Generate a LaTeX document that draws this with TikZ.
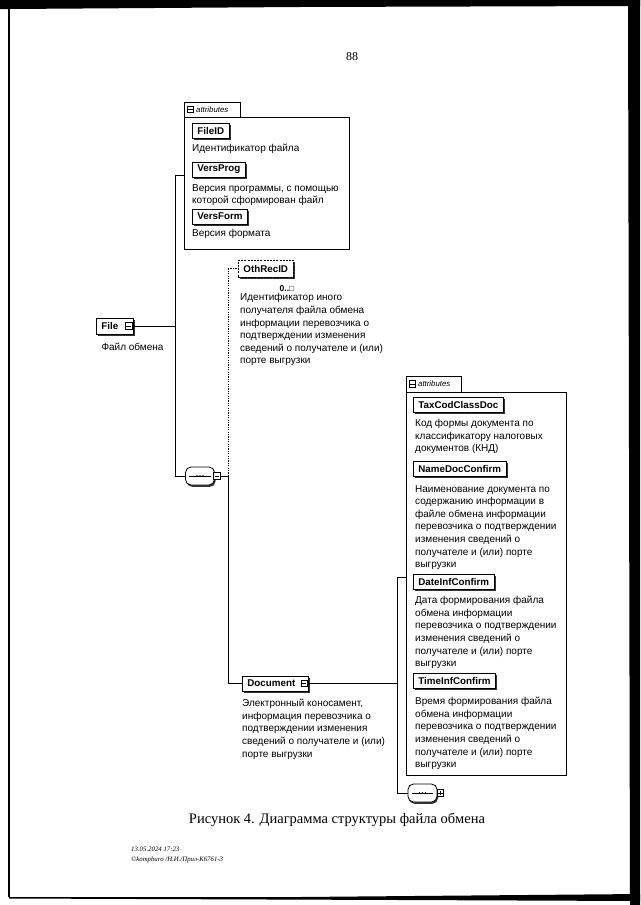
\documentclass[tikz,border=0pt]{standalone}
\usepackage{fontspec}
\setmainfont{Liberation Serif}
\setsansfont{Liberation Sans}
\usetikzlibrary{shadows}

\tikzset{
  elem/.style={draw, line width=0.8pt, fill=white, anchor=west,
    font=\sffamily\bfseries\fontsize{9.8}{11}\selectfont,
    inner xsep=5pt, inner ysep=0pt, minimum height=15pt,
    drop shadow={shadow xshift=1.6pt, shadow yshift=-1.8pt, fill=black!80, opacity=1}},
  optelem/.style={elem, dash pattern=on 2pt off 1.2pt, minimum height=17pt},
  desc/.style={anchor=north west, inner sep=0pt, align=left,
    font=\sffamily\fontsize{10}{12.6}\selectfont},
  attrbox/.style={draw, line width=0.7pt, anchor=north west, inner sep=0pt},
  attrlbl/.style={anchor=west, inner sep=0pt, font=\sffamily\itshape\fontsize{7.8}{8}\selectfont},
  btn/.style={draw, line width=0.6pt, fill=white, minimum size=6.5pt, inner sep=0pt},
  seqshape/.style={draw, line width=0.8pt, fill=white, rounded corners=5.5pt,
    minimum width=29pt, minimum height=18pt, inner sep=0pt,
    drop shadow={shadow xshift=1pt, shadow yshift=-1.8pt, fill=black!80, opacity=1}},
  conn/.style={line width=0.7pt},
  dotconn/.style={line width=0.8pt, dash pattern=on 1.3pt off 1.1pt},
}

\begin{document}
\begin{tikzpicture}[x=1pt, y=-1pt]
\useasboundingbox (0,0) rectangle (640,905);

% scanned page borders
\fill[black] (0,0) -- (640,0) -- (640,6) -- (300,7) -- (10,9) -- (0,9) -- cycle;
\fill[black] (628,0) -- (640,0) -- (640,905) -- (630,905) -- cycle;
\fill[black] (9,897) -- (300,897) -- (640,894) -- (640,901) -- (400,900) -- (9,898.5) -- cycle;
\draw[line width=1.3pt] (9,8) -- (9,897);

% page number
\node[font=\fontsize{12}{14}\selectfont, inner sep=0pt] (pagenum) at (352,57) {88};

% ---------- top attributes box ----------
\node[attrbox, minimum width=165pt, minimum height=132pt] (attr1) at (184,117) {};
\draw[line width=0.7pt] (attr1.north west) -- ++(0,-15) -- ++(56,0) -- ++(0,15);
\node[btn] (attr1btn) at (190.5,109.5) {};
\draw[line width=0.5pt] ([xshift=1.3pt]attr1btn.west) -- ([xshift=-1.3pt]attr1btn.east);
\node[attrlbl] (attr1lbl) at (196,109.5) {attributes};

\node[elem] (fileid) at (192,131) {FileID};
\node[desc] (fileiddesc) at (192,144) {Идентификатор файла};
\node[elem] (versprog) at (192,169.5) {VersProg};
\node[desc] (versprogdesc) at (192,184) {Версия программы, с помощью\\которой сформирован файл};
\node[elem] (versform) at (192,216.5) {VersForm};
\node[desc] (versformdesc) at (192,229) {Версия формата};

% ---------- File ----------
\node[elem, minimum height=16pt] (file) at (96,326) {File\rule{10pt}{0pt}};
\node[btn] (filebtn) at ([xshift=-5pt]file.east) {};
\draw[line width=0.5pt] ([xshift=1.3pt]filebtn.west) -- ([xshift=-1.3pt]filebtn.east);
\node[anchor=north, inner sep=0pt, font=\sffamily\fontsize{10}{12}\selectfont] (filedesc) at (132.5,342.5) {Файл обмена};

\coordinate (j1top) at (175,175);
\coordinate (j1bot) at (175,476);
\draw[conn] (filebtn.east) -- (filebtn.east -| j1top);
\draw[conn] (j1top) -- (j1bot);
\draw[conn] (j1top) -- (j1top -| attr1.west);

% ---------- middle sequence ----------
\node[seqshape] (seq1) at (200,476) {};
\draw[line width=0.6pt] ([xshift=4pt]seq1.west) -- ([xshift=-4pt]seq1.east);
\foreach \dx in {-3,0,3} \fill ([xshift=\dx pt]seq1.center) circle (0.9pt);
\node[btn] (seq1btn) at ([xshift=2pt]seq1.east) {};
\draw[line width=0.5pt] ([xshift=1.3pt]seq1btn.west) -- ([xshift=-1.3pt]seq1btn.east);
\draw[conn] (j1bot) -- (seq1.west);

\coordinate (j2top) at (228,268.5);
\coordinate (j2mid) at (228,476);
\coordinate (j2bot) at (228,683.5);
\draw[conn] (seq1btn.east) -- (j2mid);
\draw[dotconn] (j2mid) -- (j2top);
\draw[conn] (j2mid) -- (j2bot);

% ---------- OthRecID ----------
\node[optelem] (oth) at (238,268.5) {OthRecID};
\draw[dotconn] (j2top) -- (oth.west);
\node[inner sep=0pt, font=\sffamily\bfseries\fontsize{8.5}{9}\selectfont] (othcard) at (287,288.5) {0..□};
\node[desc] (othdesc) at (240,293.5) {Идентификатор иного\\получателя файла обмена\\информации перевозчика о\\подтверждении изменения\\сведений о получателе и (или)\\порте выгрузки};

% ---------- Document ----------
\node[elem] (doc) at (242,683.5) {Document\rule{8pt}{0pt}};
\node[btn] (docbtn) at ([xshift=-4.5pt]doc.east) {};
\draw[line width=0.5pt] ([xshift=1.3pt]docbtn.west) -- ([xshift=-1.3pt]docbtn.east);
\node[desc] (docdesc) at (242,699) {Электронный коносамент,\\информация перевозчика о\\подтверждении изменения\\сведений о получателе и (или)\\порте выгрузки};
\draw[conn] (j2bot) -- (doc.west);

% ---------- right attributes box ----------
\node[attrbox, minimum width=160pt, minimum height=383pt] (attr2) at (406,392) {};
\draw[line width=0.7pt] (attr2.north west) -- ++(0,-16) -- ++(55,0) -- ++(0,16);
\node[btn] (attr2btn) at (412.5,384) {};
\draw[line width=0.5pt] ([xshift=1.3pt]attr2btn.west) -- ([xshift=-1.3pt]attr2btn.east);
\node[attrlbl] (attr2lbl) at (418,384) {attributes};

\node[elem] (taxcod) at (413,405) {TaxCodClassDoc};
\node[desc] (taxcoddesc) at (415,419) {Код формы документа по\\классификатору налоговых\\документов (КНД)};
\node[elem] (namedoc) at (413,469) {NameDocConfirm};
\node[desc] (namedocdesc) at (415,485) {Наименование документа по\\содержанию информации в\\файле обмена информации\\перевозчика о подтверждении\\изменения сведений о\\получателе и (или) порте\\выгрузки};
\node[elem] (dateinf) at (413,581.5) {DateInfConfirm};
\node[desc] (dateinfdesc) at (415,596) {Дата формирования файла\\обмена информации\\перевозчика о подтверждении\\изменения сведений о\\получателе и (или) порте\\выгрузки};
\node[elem] (timeinf) at (413,680.5) {TimeInfConfirm};
\node[desc] (timeinfdesc) at (415,697) {Время формирования файла\\обмена информации\\перевозчика о подтверждении\\изменения сведений о\\получателе и (или) порте\\выгрузки};

\coordinate (j3top) at (397,577);
\coordinate (j3bot) at (397,793);
\draw[conn] (docbtn.east) -- (docbtn.east -| j3top);
\draw[conn] (j3top) -- (j3bot);
\draw[conn] (j3top) -- (j3top -| attr2.west);

% ---------- bottom sequence ----------
\node[seqshape] (seq2) at (422.5,793) {};
\draw[line width=0.6pt] ([xshift=4pt]seq2.west) -- ([xshift=-4pt]seq2.east);
\foreach \dx in {-3,0,3} \fill ([xshift=\dx pt]seq2.center) circle (0.9pt);
\node[btn] (seq2btn) at ([xshift=3pt]seq2.east) {};
\draw[line width=0.5pt] ([xshift=1.3pt]seq2btn.west) -- ([xshift=-1.3pt]seq2btn.east);
\draw[line width=0.5pt] ([yshift=1.3pt]seq2btn.south) -- ([yshift=-1.3pt]seq2btn.north);
\draw[conn] (j3bot) -- (seq2.west);

% ---------- caption & footer ----------
\node[font=\fontsize{14.5}{17}\selectfont, inner sep=0pt] (caption) at (337,820) {Рисунок 4. Диаграмма структуры файла обмена};
\node[anchor=north west, inner sep=0pt, align=left, font=\itshape\fontsize{6.8}{10}\selectfont] (footer) at (131,846.5) {13.05.2024 17:23\\©kompburo /Н.И./Прил-К6761-3};
\end{tikzpicture}
\end{document}
